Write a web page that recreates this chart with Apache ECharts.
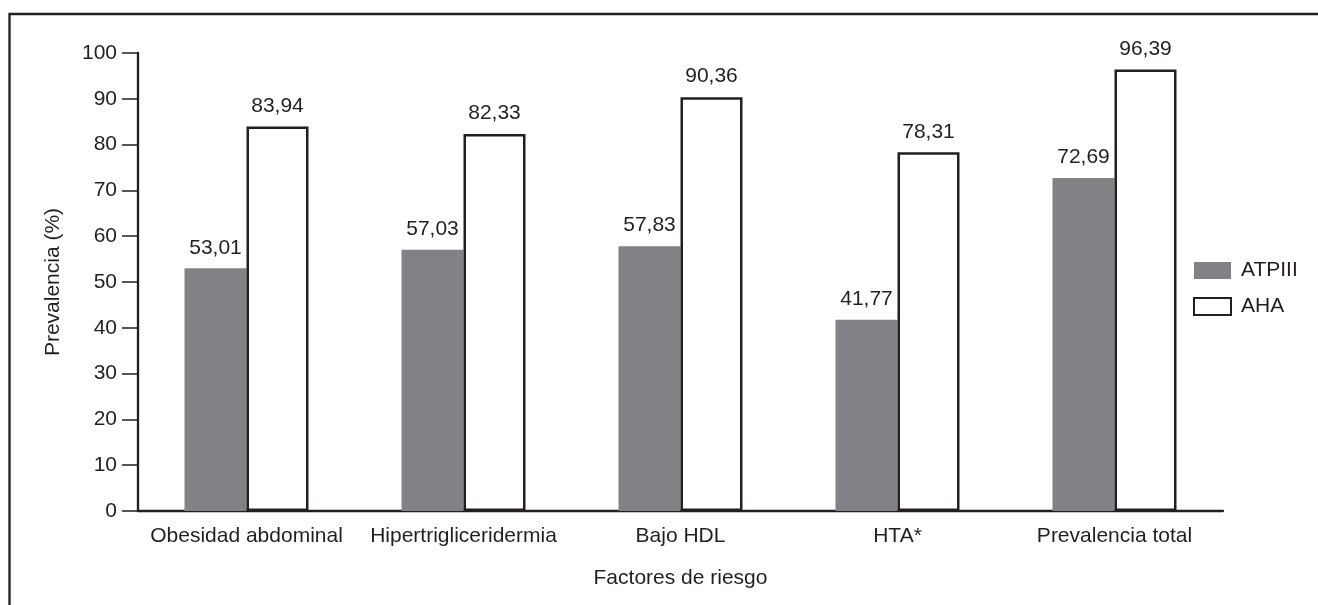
<!DOCTYPE html>
<html>
<head>
<meta charset="utf-8">
<script src="https://cdn.jsdelivr.net/npm/echarts@6/dist/echarts.min.js"></script>
<style>
  html, body { margin: 0; padding: 0; background: #fff; }
  #chart { width: 1318px; height: 605px; }
</style>
</head>
<body>
<div id="chart"></div>
<script>
  // categories and values
  var categories = ['Obesidad abdominal', 'Hipertrigliceridermia', 'Bajo HDL', 'HTA*', 'Prevalencia total'];
  var atpValues = [53.01, 57.03, 57.83, 41.77, 72.69];
  var ahaValues = [83.94, 82.33, 90.36, 78.31, 96.39];
  var seriesNames = ['ATPIII', 'AHA'];

  var ink = '#231f20';
  var font = 'Liberation Sans, Arial, sans-serif';
  var fs = 21;

  function comma(p) {
    return p.value.toFixed(2).replace('.', ',');
  }

  var chart = echarts.init(document.getElementById('chart'));
  var option = {
    animation: false,
    textStyle: { fontFamily: font, color: ink },
    graphic: [{
      type: 'rect',
      shape: { x: 9.5, y: 14, width: 1400, height: 700 },
      style: { fill: 'none', stroke: ink, lineWidth: 2.3 },
      silent: true
    }],
    grid: { left: 138, right: 95, top: 53, bottom: 94 },
    legend: {
      orient: 'vertical',
      left: 1188,
      top: 255,
      icon: 'rect',
      itemWidth: 37,
      itemHeight: 17,
      itemGap: 15,
      textStyle: { fontSize: fs, color: ink, fontFamily: font, padding: [0, 0, 0, 5] },
      data: seriesNames
    },
    xAxis: {
      type: 'category',
      data: categories,
      name: 'Factores de riesgo',
      nameLocation: 'middle',
      nameGap: 57,
      nameTextStyle: { fontSize: fs, color: ink, fontFamily: font },
      axisLine: { lineStyle: { color: ink, width: 2.3 } },
      axisTick: { show: false },
      axisLabel: { fontSize: fs, color: ink, margin: 15, interval: 0 }
    },
    yAxis: {
      type: 'value',
      min: 0,
      max: 100,
      interval: 10,
      name: 'Prevalencia (%)',
      nameLocation: 'middle',
      nameGap: 74,
      nameTextStyle: { fontSize: fs, color: ink, fontFamily: font },
      splitLine: { show: false },
      axisLine: { show: true, lineStyle: { color: ink, width: 2.3 } },
      axisTick: { show: true, length: 16, lineStyle: { color: ink, width: 1.5 } },
      axisLabel: { fontSize: fs, color: ink, margin: 21 }
    },
    series: [{
      name: seriesNames[0],
      type: 'bar',
      data: atpValues,
      barWidth: 62,
      barGap: '0%',
      itemStyle: { color: '#818285' },
      label: { show: true, position: 'top', distance: 10, fontSize: fs, color: ink, formatter: comma }
    }, {
      name: seriesNames[1],
      type: 'bar',
      data: ahaValues,
      barWidth: 62,
      barGap: '0%',
      itemStyle: { color: '#ffffff', borderColor: ink, borderWidth: 2.5 },
      label: { show: true, position: 'top', distance: 10, fontSize: fs, color: ink, formatter: comma }
    }]
  };
  chart.setOption(option);
</script>
</body>
</html>
